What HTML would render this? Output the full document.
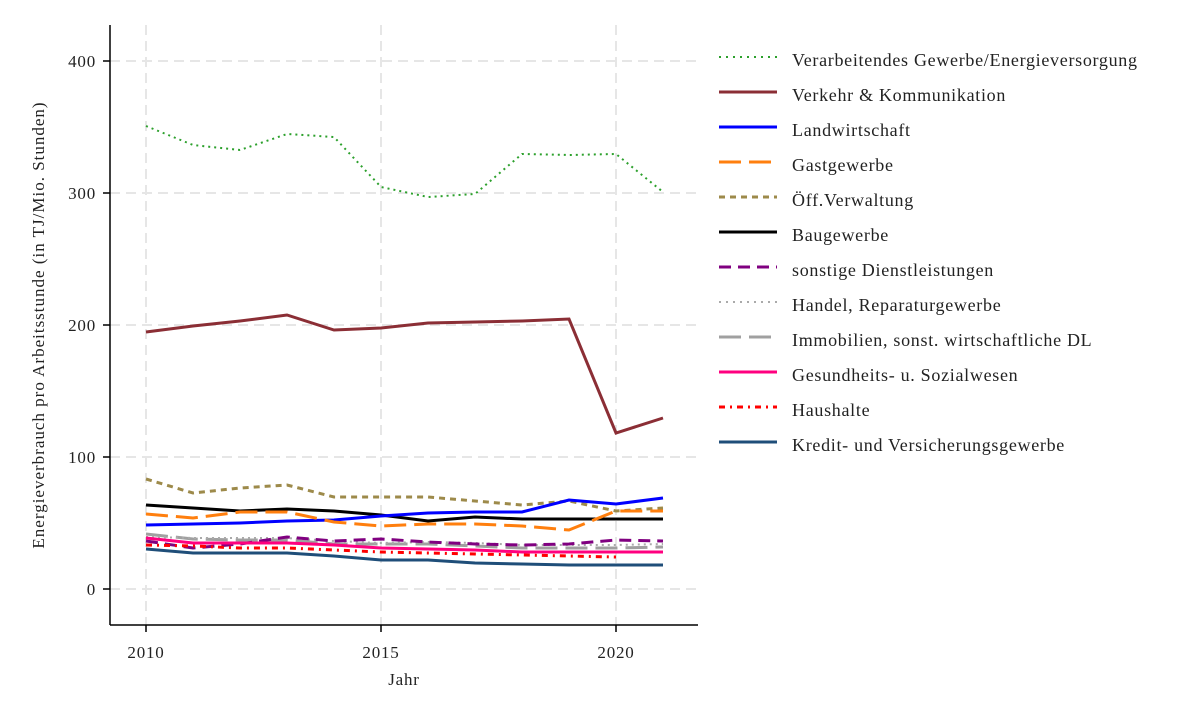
<!DOCTYPE html><html><head><meta charset="utf-8"><style>body{margin:0;background:#fff}svg text{font-family:"Liberation Serif",serif;fill:#222}</style></head><body>
<svg width="1200" height="720" xmlns="http://www.w3.org/2000/svg">
<g stroke="#e6e6e6" stroke-width="2" stroke-dasharray="10,6" fill="none">
<line x1="110" y1="61" x2="698" y2="61"/><line x1="110" y1="193" x2="698" y2="193"/><line x1="110" y1="325" x2="698" y2="325"/><line x1="110" y1="457" x2="698" y2="457"/><line x1="110" y1="589" x2="698" y2="589"/>
<line x1="146" y1="25" x2="146" y2="625"/><line x1="381" y1="25" x2="381" y2="625"/><line x1="616" y1="25" x2="616" y2="625"/>
</g>
<g stroke="#000" stroke-width="1.5" fill="none">
<line x1="110" y1="25" x2="110" y2="625"/><line x1="110" y1="625" x2="698" y2="625"/>
<line x1="103" y1="61" x2="110" y2="61"/><line x1="103" y1="193" x2="110" y2="193"/><line x1="103" y1="325" x2="110" y2="325"/><line x1="103" y1="457" x2="110" y2="457"/><line x1="103" y1="589" x2="110" y2="589"/>
<line x1="146" y1="625" x2="146" y2="632"/><line x1="381" y1="625" x2="381" y2="632"/><line x1="616" y1="625" x2="616" y2="632"/>
</g>
<g font-size="17" letter-spacing="0.8" text-anchor="end"><text x="96" y="67">400</text><text x="96" y="199">300</text><text x="96" y="331">200</text><text x="96" y="463">100</text><text x="96" y="595">0</text></g>
<g font-size="17" letter-spacing="0.8" text-anchor="middle"><text x="146" y="658">2010</text><text x="381" y="658">2015</text><text x="616" y="658">2020</text><text x="404" y="685">Jahr</text></g>
<text font-size="17" letter-spacing="1" text-anchor="middle" transform="translate(44,325) rotate(-90)">Energieverbrauch pro Arbeitsstunde (in TJ/Mio. Stunden)</text>
<g fill="none" stroke-width="3">
<polyline stroke="#2ca02c" stroke-width="2" stroke-dasharray="2,4" points="146,126 193,145 240,150 287,134 334,137 381,187 428,197 475,194 522,154 569,155 616,154 663,192"/>
<polyline stroke="#8b2e35" points="146,332 193,326 240,321 287,315 334,330 381,328 428,323 475,322 522,321 569,319 616,433 663,418"/>
<polyline stroke="#9d8a4a" stroke-dasharray="6,5" points="146,479 193,493 240,488 287,485 334,497 381,497 428,497 475,501 522,505 569,501 616,511 663,508"/>
<polyline stroke="#000" points="146,505 193,508 240,511 287,509 334,511 381,515 428,521 475,517 522,519 569,519 616,519 663,519"/>
<polyline stroke="#0000ff" points="146,525 193,524 240,523 287,521 334,520 381,516 428,513 475,512 522,512 569,500 616,504 663,498"/>
<polyline stroke="#ff7f0e" stroke-dasharray="22,8" points="146,514 193,518 240,512 287,512 334,522 381,526 428,524 475,524 522,526 569,530 616,511 663,511"/>
<polyline stroke="#a0a0a0" stroke-dasharray="22,8" points="146,534 193,539 240,540 287,540 334,544 381,544 428,544 475,546 522,548 569,548 616,548 663,547"/>
<polyline stroke="#aaa" stroke-width="2" stroke-dasharray="2,4" points="146,537 193,538 240,538 287,538 334,541 381,543 428,542 475,543 522,545 569,545 616,545 663,544"/>
<polyline stroke="#800080" stroke-dasharray="12,7" points="146,541 193,548 240,544 287,537 334,541 381,539 428,542 475,544 522,545 569,544 616,540 663,541"/>
<polyline stroke="#ff007f" points="146,538 193,543 240,543 287,543 334,545 381,548 428,549 475,550 522,552 569,552 616,552 663,552"/>
<polyline stroke="#ff0000" stroke-dasharray="6,5,2,5" points="146,545 193,546 240,548 287,548 334,550 381,552 428,553 475,554 522,555 569,556 616,557"/>
<polyline stroke="#1f4e79" points="146,549 193,553 240,553 287,553 334,556 381,560 428,560 475,563 522,564 569,565 616,565 663,565"/>
</g>
<g fill="none" stroke-width="3">
<line x1="719" y1="57" x2="777" y2="57" stroke="#2ca02c" stroke-width="2" stroke-dasharray="2,5"/>
<line x1="719" y1="92" x2="777" y2="92" stroke="#8b2e35"/>
<line x1="719" y1="127" x2="777" y2="127" stroke="#0000ff"/>
<line x1="719" y1="162" x2="777" y2="162" stroke="#ff7f0e" stroke-dasharray="22,8"/>
<line x1="719" y1="197" x2="777" y2="197" stroke="#9d8a4a" stroke-dasharray="6,5"/>
<line x1="719" y1="232" x2="777" y2="232" stroke="#000"/>
<line x1="719" y1="267" x2="777" y2="267" stroke="#800080" stroke-dasharray="12,7"/>
<line x1="719" y1="302" x2="777" y2="302" stroke="#aaa" stroke-width="2" stroke-dasharray="2,5"/>
<line x1="719" y1="337" x2="777" y2="337" stroke="#a0a0a0" stroke-dasharray="22,8"/>
<line x1="719" y1="372" x2="777" y2="372" stroke="#ff007f"/>
<line x1="719" y1="407" x2="777" y2="407" stroke="#ff0000" stroke-dasharray="6,5,2,5"/>
<line x1="719" y1="442" x2="777" y2="442" stroke="#1f4e79"/>
</g>
<g font-size="18" letter-spacing="0.7">
<text x="792" y="66">Verarbeitendes Gewerbe/Energieversorgung</text>
<text x="792" y="101">Verkehr &amp; Kommunikation</text>
<text x="792" y="136">Landwirtschaft</text>
<text x="792" y="171">Gastgewerbe</text>
<text x="792" y="206">Öff.Verwaltung</text>
<text x="792" y="241">Baugewerbe</text>
<text x="792" y="276">sonstige Dienstleistungen</text>
<text x="792" y="311">Handel, Reparaturgewerbe</text>
<text x="792" y="346">Immobilien, sonst. wirtschaftliche DL</text>
<text x="792" y="381">Gesundheits- u. Sozialwesen</text>
<text x="792" y="416">Haushalte</text>
<text x="792" y="451">Kredit- und Versicherungsgewerbe</text>
</g>
</svg></body></html>
